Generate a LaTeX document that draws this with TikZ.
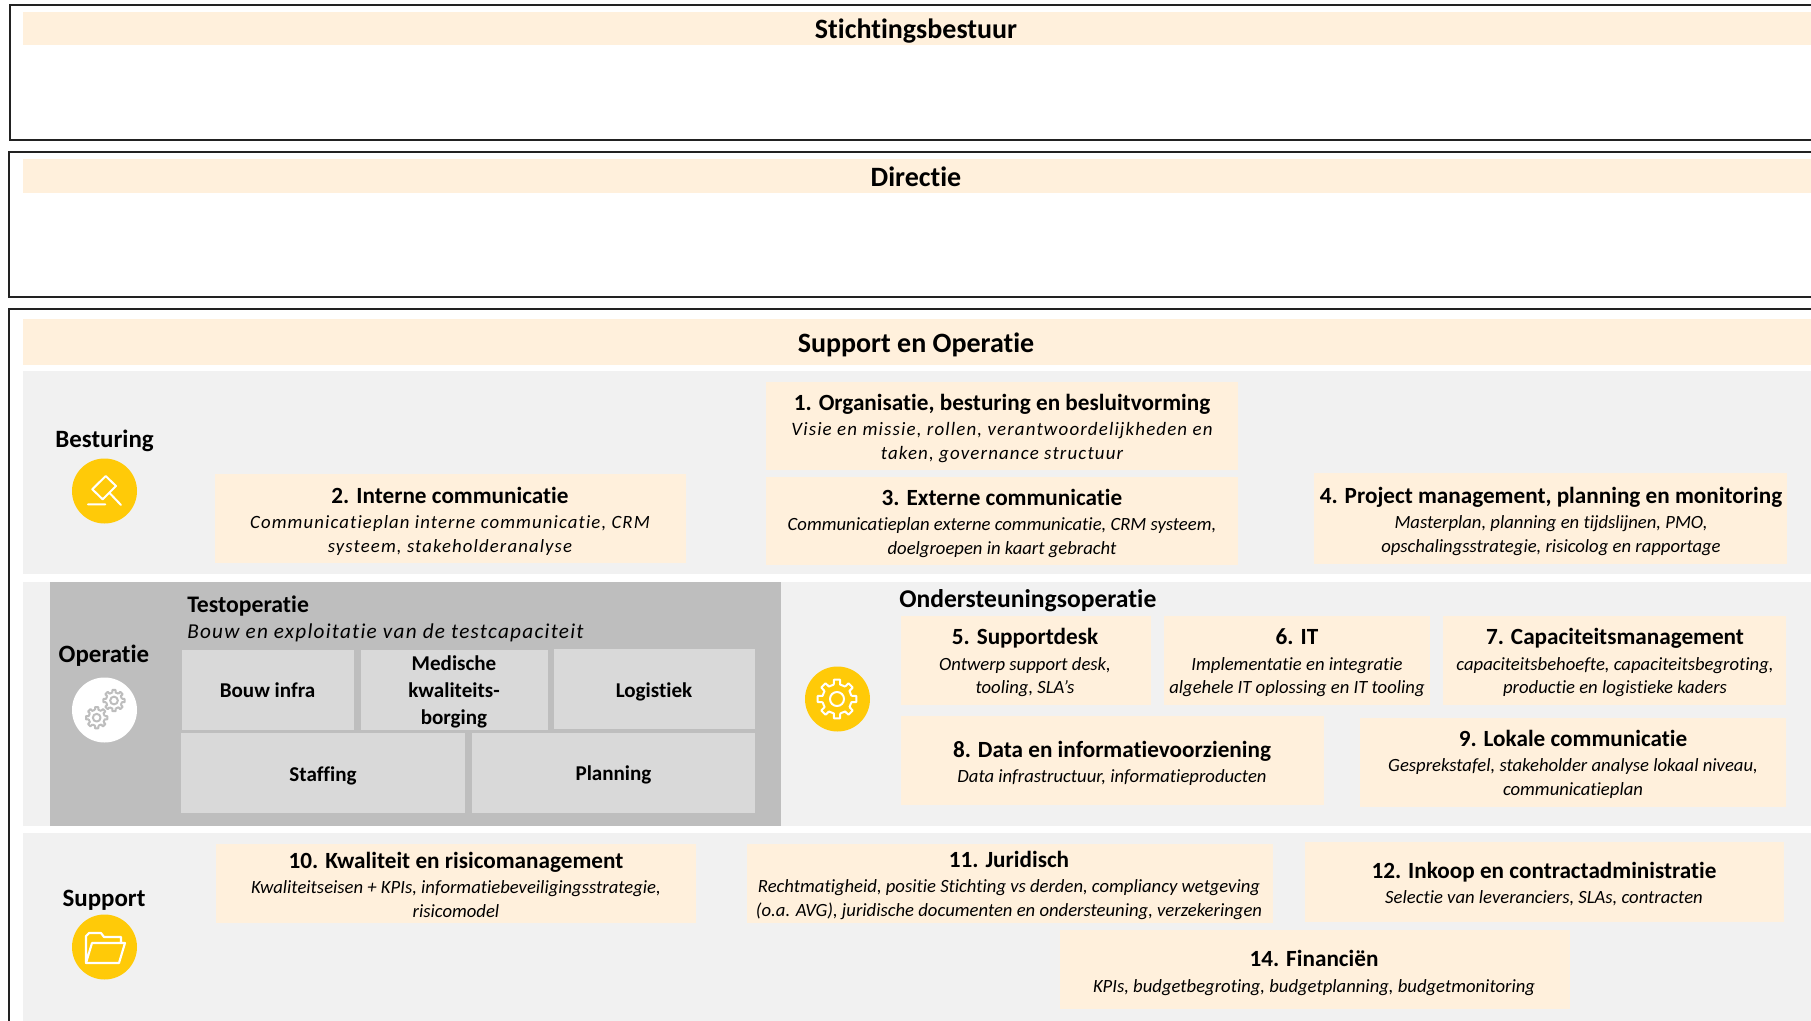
\documentclass[tikz,border=0pt]{standalone}
\usepackage{fontspec}
\setmainfont[Ligatures=NoCommon]{Carlito}
\newfontfamily\spaced[LetterSpace=6,Ligatures=NoCommon]{Carlito}
\definecolor{cream}{HTML}{FFF0DC}
\definecolor{bandgrey}{HTML}{F1F1F1}
\definecolor{darkgrey}{HTML}{BEBEBE}
\definecolor{lightgrey}{HTML}{D9D9D9}
\definecolor{amber}{HTML}{FFCA08}
\definecolor{framec}{HTML}{222222}
\definecolor{gearc}{HTML}{BDBDBD}
\newcommand{\szTitle}{\fontsize{21}{24}\selectfont\bfseries}
\newcommand{\szSide}{\fontsize{18.7}{22}\selectfont\bfseries}
\newcommand{\szTest}{\fontsize{17.8}{22}\selectfont\bfseries}
\newcommand{\szOnd}{\fontsize{19.2}{22}\selectfont\bfseries}
\newcommand{\szBox}{\fontsize{17.4}{20}\selectfont\bfseries}
\newcommand{\szDesc}{\fontsize{14}{16}\selectfont\itshape}
\newcommand{\szWide}{\spaced\fontsize{14.05}{16}\selectfont\itshape}
\newcommand{\szGrey}{\fontsize{15.8}{18}\selectfont\bfseries}
% rectangle given by pixel corners
\newcommand{\panel}[6]{\node[panelbox,fill=#2,minimum width={(#5-#3)*0.75pt},minimum height={(#6-#4)*0.75pt}] (#1) at ({(#3+#5)/2},{(#4+#6)/2}) {};}
\newcommand{\gearicon}[6]{% name,x,y,radius,colour,stroke
  \draw[#5,line width=#6,line join=round] (#2,#3) circle[radius=#4*0.36];
  \draw[#5,line width=#6,line join=round]
    \foreach \a in {0,45,...,315} {
      {[shift={(#2,#3)}]
       (\a-12:#4*0.76) -- (\a-9:#4) -- (\a+9:#4) -- (\a+12:#4*0.76)
       arc[start angle=\a+12,end angle=\a+33,radius=#4*0.76]}
    };
}
\tikzset{x=0.75pt,y=-0.75pt,
  panelbox/.style={draw=none,inner sep=0pt,outer sep=0pt,rectangle},
  lab/.style={anchor=base,inner sep=0pt,text=black},
  lableft/.style={anchor=base west,inner sep=0pt,text=black},
  frm/.style={draw=framec,line width=1.5pt,fill=white},
  disc/.style={circle,inner sep=0pt,minimum size=48.75pt,fill=amber}
}
\begin{document}
\begin{tikzpicture}
\useasboundingbox (0,0) rectangle (1811,1021);
\fill[white] (0,0) rectangle (1811,1021);
% frames
\draw[frm] (1815,5) -- (10,5) -- (10,140) -- (1815,140);
\draw[frm] (1815,152) -- (9,152) -- (9,297) -- (1815,297);
\draw[frm] (1815,309) -- (9,309) -- (9,1025);
% title bars
\panel{t1}{cream}{23}{12}{1811}{45}
\panel{t2}{cream}{23}{159}{1811}{193}
\panel{t3}{cream}{23}{319}{1811}{365}
\node[lab] (lt1) at (916,38) {\szTitle Stichtingsbestuur};
\node[lab] (lt2) at (916,186) {\szTitle Directie};
\node[lab] (lt3) at (916,352) {\szTitle Support en Operatie};
% bands
\panel{b1}{bandgrey}{23}{371}{1811}{574}
\panel{b2}{bandgrey}{23}{582}{1811}{826}
\panel{b3}{bandgrey}{23}{833}{1811}{1021}
\panel{dg}{darkgrey}{50}{582}{781}{826}
% test op
\node[lableft] (to1) at (187,612) {\szTest Testoperatie};
\node[lableft] (to2) at (187,638.5) {\spaced\fontsize{15.9}{18}\selectfont\itshape Bouw en exploitatie van de testcapaciteit};
\panel{g1}{lightgrey}{182}{650}{354}{730}
\panel{g2}{lightgrey}{361}{650}{548}{730}
\panel{g3}{lightgrey}{554}{649}{755}{729}
\panel{g4}{lightgrey}{181}{733}{465}{813}
\panel{g5}{lightgrey}{472}{733}{755}{813}
\node[lab] (gt1) at (267.5,697) {\szGrey Bouw infra};
\node[lab] (gt2a) at (454,670) {\szGrey Medische};
\node[lab] (gt2b) at (454,697) {\szGrey kwaliteits-};
\node[lab] (gt2c) at (454,724) {\szGrey borging};
\node[lab] (gt3) at (654,697) {\szGrey Logistiek};
\node[lab] (gt4) at (323,781) {\szGrey Staffing};
\node[lab] (gt5) at (613.5,780) {\szGrey Planning};
% side labels
\node[lab] (s1) at (104.5,447) {\szSide Besturing};
\node[lab] (s2) at (104,662) {\szSide Operatie};
\node[lab] (s3) at (104,906) {\szSide Support};
\node[lableft] (s4) at (899,607) {\szOnd Ondersteuningsoperatie};
% discs
\node[disc] (d1) at (104.5,491) {};
\node[disc,fill=white] (d2) at (104.5,710) {};
\node[disc] (d3) at (104.5,947) {};
\node[disc] (d4) at (837.5,699) {};
% gavel
\draw[white,line width=1.5pt,line join=round,line cap=round]
  (105.7,476) -- (116,486) -- (102.7,499.3) -- (92.3,489.3) -- cycle
  (109.3,492.7) -- (121,505)
  (88,504.3) -- (105.3,504.3);
% operatie gears
\gearicon{ge1}{114}{700.5}{10.7}{gearc}{1.5pt}
\gearicon{ge2}{96.7}{717.7}{10.7}{gearc}{1.5pt}
% ondersteuning gear
\gearicon{ge3}{837}{699}{19.5}{white}{1.5pt}
% folder
\draw[white,line width=1.6pt,line join=round]
  (86,962) -- (86,936) -- (89,933) -- (101,933) -- (104,937) -- (121,937) -- (121,943)
  (92,943) -- (125,943) -- (119,963) -- (86,963) -- cycle;
% boxes
\panel{n1}{cream}{766}{382}{1238}{470}
\panel{n2}{cream}{215}{474}{686}{563}
\panel{n3}{cream}{766}{477}{1238}{565}
\panel{n4}{cream}{1314}{473}{1787}{564}
\panel{n5}{cream}{901}{616}{1151}{705}
\panel{n6}{cream}{1164}{616}{1430}{705}
\panel{n7}{cream}{1443}{616}{1786}{705}
\panel{n8}{cream}{901}{716}{1324}{805}
\panel{n9}{cream}{1360}{718}{1786}{807}
\panel{n10}{cream}{216}{844}{696}{923}
\panel{n11}{cream}{747}{844}{1273}{923}
\panel{n12}{cream}{1305}{842}{1784}{922}
\panel{n14}{cream}{1060}{930}{1570}{1009}
% box text
\node[lab] (x1a) at (1002,410) {\szBox 1. Organisatie, besturing en besluitvorming};
\node[lab] (x1b) at (1002,435.5) {\spaced\fontsize{14.2}{16}\selectfont\itshape Visie en missie, rollen, verantwoordelijkheden en};
\node[lab] (x1c) at (1002,459) {\spaced\fontsize{14.2}{16}\selectfont\itshape taken, governance structuur};
\node[lab] (x2a) at (450,503) {\szBox 2. Interne communicatie};
\node[lab] (x2b) at (450,528) {\szWide Communicatieplan interne communicatie, CRM};
\node[lab] (x2c) at (450,552) {\szWide systeem, stakeholderanalyse};
\node[lab] (x3a) at (1002,505) {\szBox 3. Externe communicatie};
\node[lab] (x3b) at (1002,530) {\szDesc Communicatieplan externe communicatie, CRM systeem,};
\node[lab] (x3c) at (1002,554) {\szDesc doelgroepen in kaart gebracht};
\node[lab] (x4a) at (1551,503) {\szBox 4. Project management, planning en monitoring};
\node[lab] (x4b) at (1551,528.5) {\szDesc Masterplan, planning en tijdslijnen, PMO,};
\node[lab] (x4c) at (1551,552.5) {\szDesc opschalingsstrategie, risicolog en rapportage};
\node[lab] (x5a) at (1025,644) {\szBox 5. Supportdesk};
\node[lab] (x5b) at (1025,670) {\szDesc Ontwerp support desk,};
\node[lab] (x5c) at (1025,693) {\szDesc tooling, SLA’s};
\node[lab] (x6a) at (1297,644) {\szBox 6. IT};
\node[lab] (x6b) at (1297,670) {\szDesc Implementatie en integratie};
\node[lab] (x6c) at (1297,693) {\szDesc algehele IT oplossing en IT tooling};
\node[lab] (x7a) at (1615,644) {\szBox 7. Capaciteitsmanagement};
\node[lab] (x7b) at (1615,670) {\szDesc capaciteitsbehoefte, capaciteitsbegroting,};
\node[lab] (x7c) at (1615,693) {\szDesc productie en logistieke kaders};
\node[lab] (x8a) at (1112,757) {\szBox 8. Data en informatievoorziening};
\node[lab] (x8b) at (1112,782) {\szDesc Data infrastructuur, informatieproducten};
\node[lab] (x9a) at (1573,746) {\szBox 9. Lokale communicatie};
\node[lab] (x9b) at (1573,771) {\szDesc Gesprekstafel, stakeholder analyse lokaal niveau,};
\node[lab] (x9c) at (1573,795) {\szDesc communicatieplan};
\node[lab] (x10a) at (456,868) {\szBox 10. Kwaliteit en risicomanagement};
\node[lab] (x10b) at (456,893) {\szDesc Kwaliteitseisen + KPIs, informatiebeveiligingsstrategie,};
\node[lab] (x10c) at (456,917) {\szDesc risicomodel};
\node[lab] (x11a) at (1009,867) {\szBox 11. Juridisch};
\node[lab] (x11b) at (1009,892) {\szDesc Rechtmatigheid, positie Stichting vs derden, compliancy wetgeving};
\node[lab] (x11c) at (1009,916) {\szDesc (o.a. AVG), juridische documenten en ondersteuning, verzekeringen};
\node[lab] (x12a) at (1544,878) {\szBox 12. Inkoop en contractadministratie};
\node[lab] (x12b) at (1544,903) {\szDesc Selectie van leveranciers, SLAs, contracten};
\node[lab] (x14a) at (1314,966) {\szBox 14. Financiën};
\node[lab] (x14b) at (1314,992) {\szDesc KPIs, budgetbegroting, budgetplanning, budgetmonitoring};
\end{tikzpicture}
\end{document}
